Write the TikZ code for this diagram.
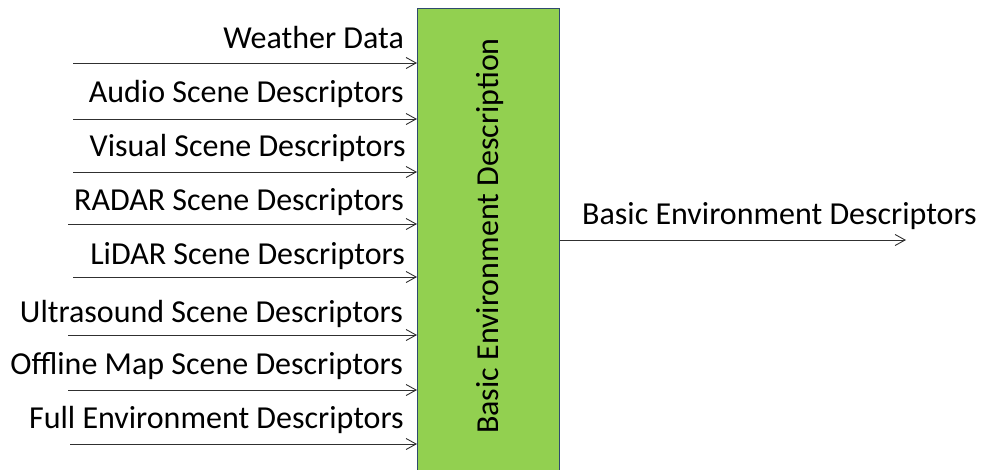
\documentclass[tikz,border=0pt]{standalone}
\usepackage{fontspec}
\setmainfont{Carlito}
\usetikzlibrary{arrows.meta}
\definecolor{boxgreen}{HTML}{92D050}
\definecolor{boxline}{HTML}{2F4A6E}
\definecolor{wire}{HTML}{303030}
\begin{document}
\begin{tikzpicture}[x=1pt,y=-1pt,
  txt/.style={inner sep=0pt,font=\fontsize{32}{36}\selectfont},
  lbl/.style={txt,anchor=base east},
  outlbl/.style={txt,anchor=base west},
  feed/.style={draw=wire,line width=0.9pt,-{Straight Barb[length=10pt,width=11pt,line width=0.9pt]}}]
\useasboundingbox (0,0) rectangle (981,469);
% processing block (runs past the lower edge)
\node[draw=boxline,fill=boxgreen,line width=1.2pt,rectangle,minimum width=142pt,minimum height=472pt,inner sep=0pt,anchor=north west] (box) at (417,8) {};
\node[txt,rotate=90,anchor=base] (title) at (498,236) {Basic Environment Description};
% input labels
\node[lbl] (l1) at (404,48)  {Weather Data};
\node[lbl] (l2) at (404,102) {Audio Scene Descriptors};
\node[lbl] (l3) at (406,156) {Visual Scene Descriptors};
\node[lbl] (l4) at (404,210) {RADAR Scene Descriptors};
\node[lbl] (l5) at (405,264) {LiDAR Scene Descriptors};
\node[lbl] (l6) at (403,322) {Ultrasound Scene Descriptors};
\node[lbl] (l7) at (403,374) {Offline Map Scene Descriptors};
\node[lbl] (l8) at (404,428) {Full Environment Descriptors};
% input line starts
\coordinate (s1) at (73,63);
\coordinate (s2) at (73,119);
\coordinate (s3) at (73,172);
\coordinate (s4) at (68,224);
\coordinate (s5) at (73,277);
\coordinate (s6) at (68,335);
\coordinate (s7) at (68,390);
\coordinate (s8) at (70,444);
\foreach \i in {1,...,8} {\draw[feed] (s\i) -- (s\i -| box.west);}
% output
\coordinate (o) at (906,240);
\draw[feed] (o -| box.east) -- (o);
\node[outlbl] (out) at (582,224) {Basic Environment Descriptors};
\end{tikzpicture}
\end{document}
